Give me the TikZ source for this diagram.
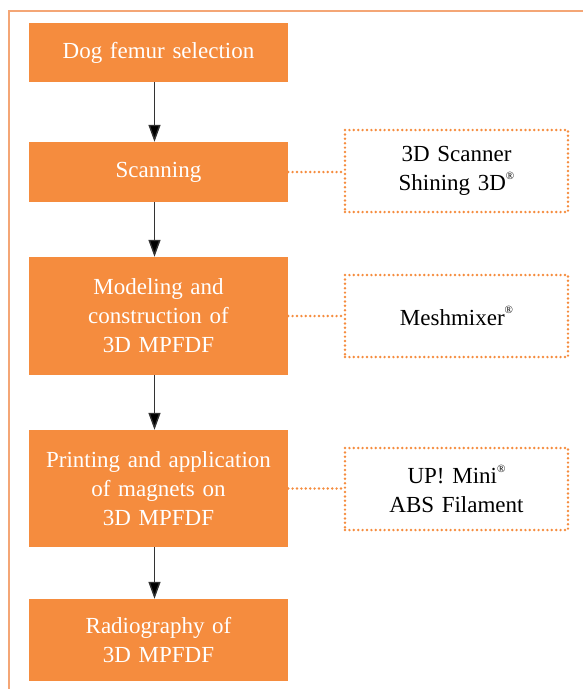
\documentclass[tikz,border=0pt]{standalone}
\usepackage{fontspec}
\setmainfont{Liberation Serif}
\usetikzlibrary{arrows.meta}
\definecolor{boxorange}{HTML}{F58C3E}
\definecolor{frameorange}{HTML}{F4A676}
\newcommand{\regmark}{\raisebox{0.5em}{\fontsize{11}{11}\selectfont ®}}
\newcommand{\labelfont}{\fontsize{23}{29}\selectfont\spaceskip=0.21em plus 0.1em minus 0.05em\relax}
\tikzset{
  stepbox/.style={fill=boxorange, draw=none, text=white, minimum width=259pt,
    text width=255pt, align=center, inner sep=0pt, font=\labelfont},
  toolbox/.style={draw=boxorange, line width=2.7pt, dash pattern=on 0pt off 4.4pt,
    line cap=round, minimum width=223pt, minimum height=82pt, text width=215pt,
    align=center, inner sep=0pt, text=black, font=\labelfont},
  flow/.style={draw=black!80, line width=1.4pt,
    -{Triangle[width=12pt,length=17pt,fill=black]}},
  link/.style={draw=boxorange, line width=2.7pt, dash pattern=on 0pt off 4.4pt,
    line cap=round},
  frame/.style={draw=frameorange, line width=1.2pt}
}
\begin{document}
\begin{tikzpicture}[x=1pt,y=-1pt]
  \useasboundingbox (0,0) rectangle (583,689);
  % outer frame: top and left rules only
  \coordinate (ftr) at (583,11);
  \coordinate (ftl) at (9,11);
  \coordinate (fbl) at (9,689);
  \draw[frame] (ftr) -- (ftl) -- (fbl);

  % process steps
  \node[stepbox, minimum height=59pt]  (sel)  at (158.5,52.5) {Dog femur selection};
  \node[stepbox, minimum height=60pt]  (scan) at (158.5,172)  {Scanning};
  \node[stepbox, minimum height=118pt] (mod)  at (158.5,316)  {Modeling and\\construction of\\3D MPFDF};
  \node[stepbox, minimum height=117pt] (prn)  at (158.5,488.5){Printing and application\\of magnets on\\3D MPFDF};
  \node[stepbox, minimum height=82pt]  (rad)  at (158.5,640)  {Radiography of\\3D MPFDF};

  % tools used at each step
  \node[toolbox] (scanner) at (456.5,171) {3D Scanner\\Shining 3D\regmark};
  \node[toolbox] (mesh)    at (456.5,316) {Meshmixer\regmark};
  \node[toolbox] (upmini)  at (456.5,489) {UP! Mini\regmark\\ABS Filament};

  % flow arrows
  \draw[flow] ([xshift=-4pt]sel.south)  -- ([xshift=-4pt]scan.north);
  \draw[flow] ([xshift=-4pt]scan.south) -- ([xshift=-4pt]mod.north);
  \draw[flow] ([xshift=-4pt]mod.south)  -- ([xshift=-4pt]prn.north);
  \draw[flow] ([xshift=-4pt]prn.south)  -- ([xshift=-4pt]rad.north);

  % dotted links to tools
  \draw[link] (scan.east) -- (scan.east -| scanner.west);
  \draw[link] (mod.east)  -- (mod.east -| mesh.west);
  \draw[link] (prn.east)  -- (prn.east -| upmini.west);
\end{tikzpicture}
\end{document}
